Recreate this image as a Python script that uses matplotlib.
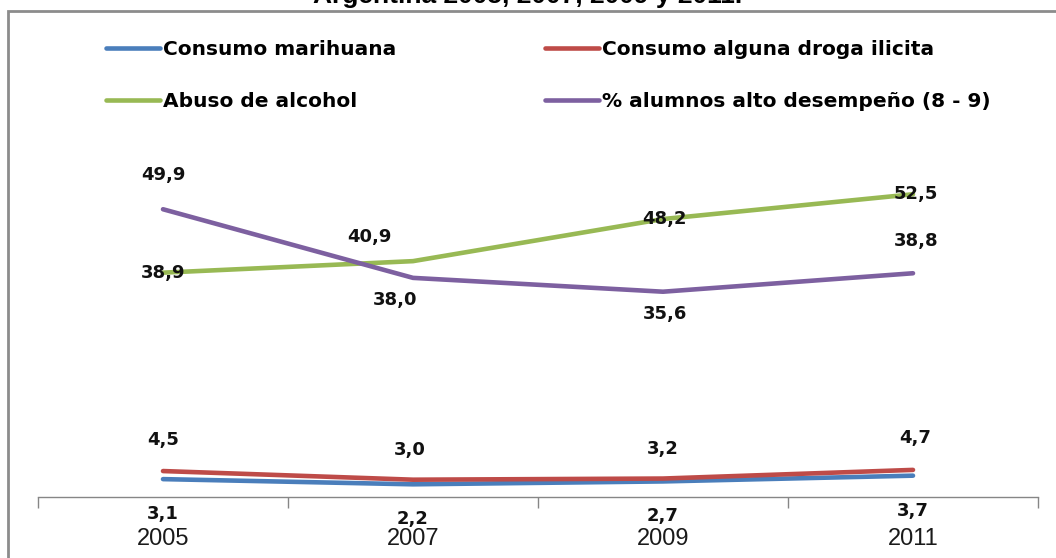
import matplotlib.pyplot as plt
from matplotlib.patches import Rectangle

# datos
anios = ['2005', '2007', '2009', '2011']
marihuana = [3.1, 2.2, 2.7, 3.7]
droga = [4.5, 3.0, 3.2, 4.7]
alcohol = [38.9, 40.9, 48.2, 52.5]
desempeno = [49.9, 38.0, 35.6, 38.8]

nombres = ['Consumo marihuana', 'Consumo alguna droga ilicita',
           'Abuso de alcohol', '% alumnos alto desempeño (8 - 9)']
colores = ['#4a7ebb', '#be4b48', '#98b954', '#7d60a0']

plt.rcParams['font.family'] = ['DejaVu Sans']

fig = plt.figure(figsize=(10.56, 5.58), dpi=100)
W, H = 1056.0, 558.0

# marco del grafico
fig.patches.append(Rectangle((8 / W, -0.1), 1.1, 1.1 - 11 / H, transform=fig.transFigure,
                             fill=False, edgecolor='#8c8c8c', linewidth=2, zorder=0))
fig.text(0.5, 1 - 3 / H, 'Argentina 2005, 2007, 2009 y 2011.', ha='center', va='baseline',
         fontsize=19, fontweight='bold', family='Liberation Sans')

ax = fig.add_axes([38 / W, 61 / H, 1000 / W, 346 / H])
x = list(range(len(anios)))
series = [marihuana, droga, alcohol, desempeno]
for s, c, n in zip(series, colores, nombres):
    ax.plot(x, s, color=c, linewidth=3.3, solid_capstyle='round', label=n)

ax.set_xlim(-0.5, 3.5)
ax.set_ylim(0, 60)
ax.set_yticks([])
for sp in ['top', 'right', 'left']:
    ax.spines[sp].set_visible(False)
ax.spines['bottom'].set_color('#868686')
ax.spines['bottom'].set_linewidth(1)
ax.set_xticks(x)
ax.set_xticklabels(anios, fontsize=17, family='Liberation Sans', color='#1a1a1a')
ax.set_xticks([-0.5, 0.5, 1.5, 2.5, 3.5], minor=True)
ax.tick_params(axis='x', which='major', length=0, pad=22.5)
ax.tick_params(axis='x', which='minor', length=8, color='#868686', width=1)

# etiquetas de datos (desplazamientos en pixeles)
px = 72.0 / 100
kw = dict(fontsize=13, fontweight='bold', ha='center', va='center',
          textcoords='offset points', color='#111111')


def etiquetas(valores, desp):
    for i, v in enumerate(valores):
        dx, dy = desp[i]
        ax.annotate(f'{v:.1f}'.replace('.', ','), (i, v),
                    xytext=(dx * px, dy * px), **kw)


etiquetas(marihuana, [(0, -35)] * 4)
etiquetas(droga, [(0, 31), (-3, 30), (0, 30), (2, 32)])
etiquetas(alcohol, [(0, 0), (-44, 24), (1, 0), (3, 0)])
etiquetas(desempeno, [(0, 34), (-18, -22), (2, -22), (3, 32)])

# leyenda
h, l = ax.get_legend_handles_labels()
orden = [0, 2, 1, 3]
leg = fig.legend([h[k] for k in orden], [l[k] for k in orden], ncol=2,
                 loc='upper left', bbox_to_anchor=(106 / W, 1 - 40 / H),
                 frameon=False, handlelength=2.7, handletextpad=0.15,
                 columnspacing=7.35, labelspacing=1.62, borderpad=0, borderaxespad=0,
                 prop={'weight': 'bold', 'size': 14.5})

fig.savefig('out.png', dpi=100)
